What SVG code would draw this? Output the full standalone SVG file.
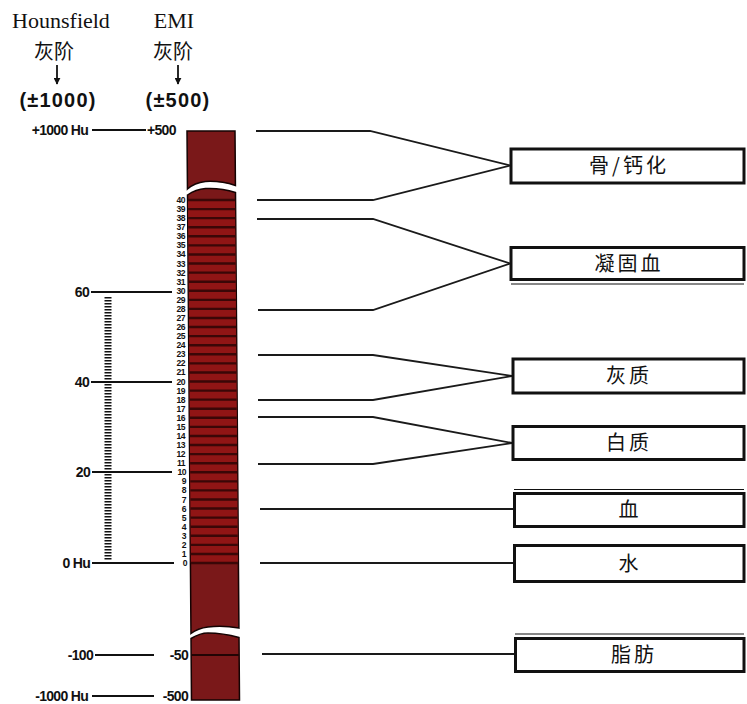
<svg xmlns="http://www.w3.org/2000/svg" width="747" height="704" viewBox="0 0 747 704">
<style>
.hdr{font-family:"Liberation Serif","Times New Roman",serif;font-size:22px;fill:#111;text-anchor:middle}
.cjk{font-family:"Noto Sans CJK SC","Noto Sans",sans-serif;font-size:20px;fill:#111;text-anchor:middle}
.rng{font-family:"Liberation Sans",Arial,sans-serif;font-size:20px;font-weight:bold;fill:#111;text-anchor:middle;letter-spacing:1.2px}
.sc{font-family:"Liberation Sans",Arial,sans-serif;font-size:14px;font-weight:bold;fill:#111;letter-spacing:-0.7px}
.num{font-family:"Liberation Sans Narrow","Liberation Sans",Arial,sans-serif;font-size:8.6px;font-weight:bold;fill:#111;text-anchor:end;letter-spacing:-0.5px}
.ln{stroke:#111;stroke-width:2;fill:none}
.cn{stroke:#1a1a1a;stroke-width:1.8;fill:none}
.box{fill:#fff;stroke:#111;stroke-width:3}
.lbl{font-family:"Noto Sans CJK SC","Noto Sans",sans-serif;font-size:20px;fill:#111;text-anchor:middle;letter-spacing:3px}
.pc{fill:#7a1819;stroke:#140303;stroke-width:1.5}
</style>
<defs>
<marker id="ah" viewBox="0 0 10 10" refX="9" refY="5" markerWidth="7" markerHeight="7" orient="auto" markerUnits="userSpaceOnUse">
<path d="M0,0 L10,5 L0,10 Z" fill="#111"/>
</marker>
</defs>

<g id="header">
<text class="hdr" x="61" y="28">Hounsfield</text>
<text class="hdr" x="174" y="28">EMI</text>
<text class="cjk" x="54" y="59">灰阶</text>
<text class="cjk" x="173" y="59">灰阶</text>
<line x1="57" y1="65" x2="57" y2="84" stroke="#111" stroke-width="1.8" marker-end="url(#ah)"/>
<line x1="178" y1="65" x2="178" y2="84" stroke="#111" stroke-width="1.8" marker-end="url(#ah)"/>
<text class="rng" x="58" y="107">(±1000)</text>
<text class="rng" x="178" y="107">(±500)</text>
</g>

<g id="scale-left">
<text class="sc" x="88" y="135" text-anchor="end">+1000 Hu</text>
<line class="ln" x1="92" y1="130" x2="146" y2="130"/>
<text class="sc" x="147" y="135">+500</text>
<text class="sc" x="89" y="297" text-anchor="end">60</text>
<line class="ln" x1="91" y1="292" x2="172" y2="292"/>
<text class="sc" x="89" y="387" text-anchor="end">40</text>
<line class="ln" x1="91" y1="382" x2="172" y2="382"/>
<text class="sc" x="90" y="477" text-anchor="end">20</text>
<line class="ln" x1="92" y1="472" x2="172" y2="472"/>
<text class="sc" x="90" y="568" text-anchor="end">0 Hu</text>
<line class="ln" x1="92" y1="563" x2="174" y2="563"/>
<line x1="108" y1="297" x2="108" y2="561" stroke="#111" stroke-width="7" stroke-dasharray="1.6 1.4"/>
<text class="sc" x="93" y="659.5" text-anchor="end">-100</text>
<line class="ln" x1="95" y1="655" x2="154" y2="655"/>
<text class="sc" x="188" y="659.5" text-anchor="end">-50</text>
<text class="sc" x="88" y="700.5" text-anchor="end">-1000 Hu</text>
<line class="ln" x1="92" y1="696" x2="154" y2="696"/>
<text class="sc" x="188" y="700.5" text-anchor="end">-500</text>
</g>

<g id="numbers">
<text class="num" x="185" y="203">40</text>
<text class="num" x="185" y="212.1">39</text>
<text class="num" x="185" y="221.1">38</text>
<text class="num" x="185" y="230.2">37</text>
<text class="num" x="185" y="239.3">36</text>
<text class="num" x="185" y="248.4">35</text>
<text class="num" x="185" y="257.4">34</text>
<text class="num" x="185" y="266.5">33</text>
<text class="num" x="185" y="275.6">32</text>
<text class="num" x="185" y="284.7">31</text>
<text class="num" x="185" y="293.7">30</text>
<text class="num" x="185" y="302.8">29</text>
<text class="num" x="185" y="311.9">28</text>
<text class="num" x="185" y="321">27</text>
<text class="num" x="185" y="330">26</text>
<text class="num" x="185" y="339.1">25</text>
<text class="num" x="185" y="348.2">24</text>
<text class="num" x="185" y="357.3">23</text>
<text class="num" x="185" y="366.3">22</text>
<text class="num" x="185" y="375.4">21</text>
<text class="num" x="185" y="384.5">20</text>
<text class="num" x="185" y="393.6">19</text>
<text class="num" x="185" y="402.6">18</text>
<text class="num" x="185" y="411.7">17</text>
<text class="num" x="185" y="420.8">16</text>
<text class="num" x="185" y="429.9">15</text>
<text class="num" x="185" y="438.9">14</text>
<text class="num" x="185" y="448">13</text>
<text class="num" x="185" y="457.1">12</text>
<text class="num" x="185" y="466.2">11</text>
<text class="num" x="186" y="475.2">10</text>
<text class="num" x="186" y="484.3">9</text>
<text class="num" x="186" y="493.4">8</text>
<text class="num" x="186" y="502.5">7</text>
<text class="num" x="186" y="511.5">6</text>
<text class="num" x="186" y="520.6">5</text>
<text class="num" x="186" y="529.7">4</text>
<text class="num" x="186" y="538.8">3</text>
<text class="num" x="186" y="547.8">2</text>
<text class="num" x="186" y="556.9">1</text>
<text class="num" x="187" y="566">0</text>
</g>

<g id="bar" transform="matrix(1 0 0.0079 1 -1.035 0)">
<path class="pc" d="M187,131 H235 V185.5 C226,182.5 214,181 205,181.5 C197,182.5 191,185.5 187,189 Z"/>
<path class="pc" d="M187,195 C192,191.5 198,189 205,188.5 C215,188 226,189.5 235,192.5 V628 C226,626.5 213,626 204,627 C196,628 191,630.5 187,633.5 Z"/>
<rect x="187.5" y="200" width="47" height="363" fill="#901515"/>
<line x1="211" y1="564.2" x2="211" y2="198.8" stroke="#3a0707" stroke-width="47" stroke-dasharray="2.4 6.675"/>
<path class="pc" d="M187,638.5 C192,635.5 198,633 204,633 C215,633 226,635 235,637.5 V700 H187 Z"/>
<line x1="187" y1="655" x2="235" y2="655" stroke="#220404" stroke-width="2"/>
</g>

<g id="connectors">
<polyline class="cn" points="256,131 370,131 510,165.5"/>
<polyline class="cn" points="257,200 373,200 510,165.5"/>
<polyline class="cn" points="257,219 373,219 510,263.5"/>
<polyline class="cn" points="258,310 373,310 510,263.5"/>
<polyline class="cn" points="258,355 373,355 512,376"/>
<polyline class="cn" points="258,400 373,400 512,376"/>
<polyline class="cn" points="258,417 373,417 512,443"/>
<polyline class="cn" points="258,464 373,464 512,443"/>
<line class="cn" x1="260" y1="509" x2="514" y2="509"/>
<line class="cn" x1="260" y1="563" x2="514" y2="563"/>
<line class="cn" x1="262" y1="654" x2="515" y2="654"/>
</g>

<g id="node-bone">
<rect class="box" x="511" y="149" width="233" height="34"/>
<text class="lbl" x="629" y="173">骨/钙化</text>
</g>
<g id="node-clot">
<rect class="box" x="511" y="247.5" width="233" height="32"/>
<line x1="511" y1="284" x2="744" y2="284" stroke="#111" stroke-width="1.2"/>
<text class="lbl" x="629" y="271">凝固血</text>
</g>
<g id="node-gray">
<rect class="box" x="513" y="359" width="231" height="34"/>
<text class="lbl" x="629" y="383">灰质</text>
</g>
<g id="node-white">
<rect class="box" x="513" y="426.5" width="231" height="33"/>
<text class="lbl" x="629" y="450">白质</text>
</g>
<g id="node-blood">
<line x1="514" y1="489.5" x2="744" y2="489.5" stroke="#111" stroke-width="1.2"/>
<rect class="box" x="514.5" y="493.5" width="229.5" height="33"/>
<text class="lbl" x="630" y="517">血</text>
</g>
<g id="node-water">
<rect class="box" x="514.5" y="545.5" width="229.5" height="36"/>
<text class="lbl" x="630" y="571">水</text>
</g>
<g id="node-fat">
<line x1="515" y1="634" x2="744" y2="634" stroke="#111" stroke-width="1.2"/>
<rect class="box" x="515.5" y="638.5" width="228.5" height="33"/>
<text class="lbl" x="634" y="662">脂肪</text>
</g>
</svg>
